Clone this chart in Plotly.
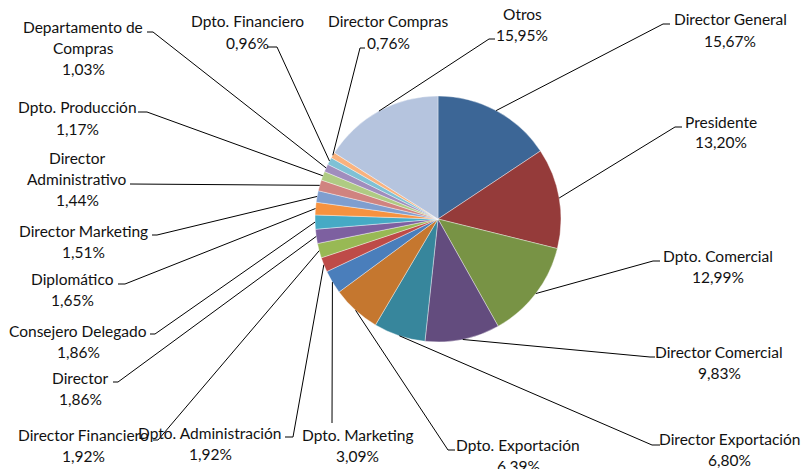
import math

import plotly.graph_objects as go

# data, in the order Excel draws the slices (clockwise from 12 o'clock)
categories = [
    "Director General", "Presidente", "Dpto. Comercial", "Director Comercial",
    "Director Exportación", "Dpto. Exportación", "Dpto. Marketing",
    "Dpto. Administración", "Director Financiero", "Director",
    "Consejero Delegado", "Diplomático", "Director Marketing",
    "Director<br>Administrativo", "Dpto. Producción",
    "Departamento de<br>Compras", "Dpto. Financiero", "Director Compras", "Otros",
]
shares = [
    15.67, 13.20, 12.99, 9.83, 6.80, 6.39, 3.09, 1.92, 1.92, 1.86,
    1.86, 1.65, 1.51, 1.44, 1.17, 1.03, 0.96, 0.76, 15.95,
]
colors = [
    "#3C6696", "#953B3A", "#789345", "#634C7E", "#37869C", "#C5772F",
    "#4A7EBB", "#BE4B48", "#98B954", "#7D60A0", "#46AAC5", "#F69240",
    "#7F9ECF", "#D08380", "#AFCB83", "#A08DBD", "#7FC1D5", "#F9B27E",
    "#B5C4DE",
]

W, H = 803, 469
CX, CY, R = 438, 219, 123
LINE_GAP = 21

# label layout in pixels: text block centre (x, y), knee of the leader (x, y), end of the short tick (x)
label_layout = [
    (730, 30, 663, 24, 670),
    (721, 132, 675, 127, 682),
    (718, 266, 653, 261, 660),
    (719, 362, 650, 357, 655),
    (729, 449, 652, 445, 660),
    (518, 455, 448, 450, 455),
    (357, 445, 332, 423, 332),
    (210, 443, 293, 437, 285),
    (83, 445, 158, 440, 153),
    (80, 388, 118, 382, 113),
    (78, 341, 155, 334, 150),
    (72, 289, 125, 284, 118),
    (83, 241, 157, 235, 152),
    (77, 179, 130, 184, 130),
    (77, 118, 147, 112, 138),
    (83, 48, 153, 32, 147),
    (247, 32, 277, 47, 267),
    (388, 32, 360, 48, 365),
    (522, 25, 489, 39, 495),
]


def px(x, y):
    return x / W, 1 - y / H


fig = go.Figure()
fig.add_trace(
    go.Pie(
        labels=[c.replace("<br>", " ") for c in categories],
        values=shares,
        sort=False,
        direction="clockwise",
        rotation=0,
        textinfo="none",
        hoverinfo="label+percent",
        marker={"colors": colors, "line": {"color": "rgba(255,255,255,0.55)", "width": 0.7}},
        domain={"x": [(CX - R) / W, (CX + R) / W], "y": [1 - (CY + R) / H, 1 - (CY - R) / H]},
        showlegend=False,
    )
)

total = sum(shares)
cum = 0.0
shapes = []
annotations = []
for name, val, (tx, ty, kx, ky, ex) in zip(categories, shares, label_layout):
    theta = 2 * math.pi * (cum + val / 2) / total
    cum += val
    sx, sy = CX + R * math.sin(theta), CY - R * math.cos(theta)
    p0, p1, p2 = px(sx, sy), px(kx, ky), px(ex, ky)
    shapes.append(
        {
            "type": "path",
            "xref": "paper",
            "yref": "paper",
            "path": f"M {p0[0]},{p0[1]} L {p1[0]},{p1[1]} L {p2[0]},{p2[1]}",
            "line": {"color": "black", "width": 1},
        }
    )
    lines = name.split("<br>") + [f"{val:.2f}".replace(".", ",") + "%"]
    top = ty - (len(lines) - 1) * LINE_GAP / 2
    for i, line in enumerate(lines):
        ax, ay = px(tx, top + i * LINE_GAP)
        annotations.append(
            {
                "text": line,
                "x": ax,
                "y": ay,
                "xref": "paper",
                "yref": "paper",
                "xanchor": "center",
                "yanchor": "middle",
                "showarrow": False,
                "font": {"family": "Lato, Carlito, sans-serif", "size": 15.5, "color": "#111111"},
            }
        )

fig.update_layout(
    width=W,
    height=H,
    paper_bgcolor="white",
    plot_bgcolor="white",
    margin={"l": 0, "r": 0, "t": 0, "b": 0},
    shapes=shapes,
    annotations=annotations,
)
# drop the default body margin so the figure sits at the window's corner
fig.write_html(
    "out.html",
    config={"displayModeBar": False},
    post_script="document.body.style.margin='0';",
)
